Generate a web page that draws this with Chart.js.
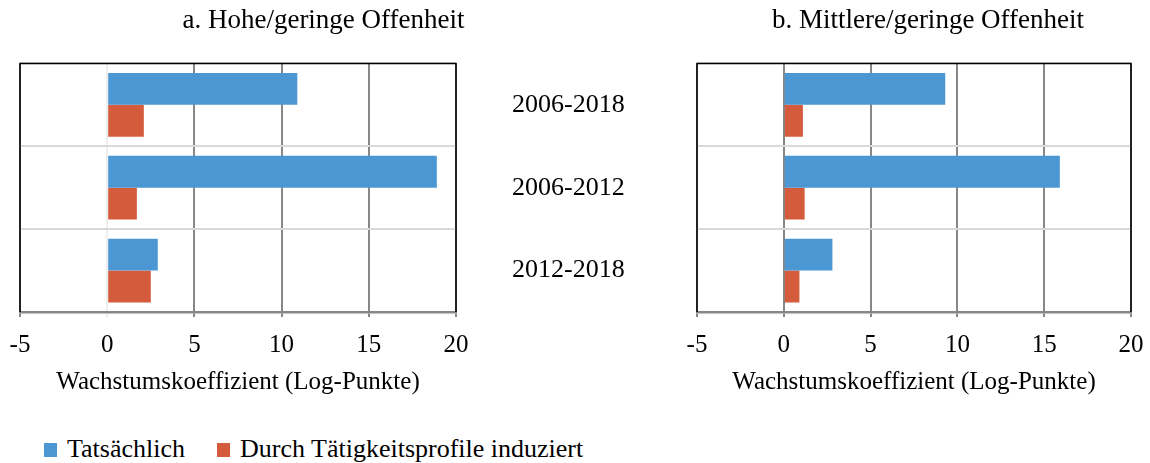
<!DOCTYPE html>
<html>
<head>
<meta charset="utf-8">
<script src="https://cdn.jsdelivr.net/npm/chart.js@4"></script>
<style>
  html, body { margin: 0; padding: 0; background: #fff; overflow: hidden; }
  #wrap { position: relative; width: 1150px; height: 463px; overflow: hidden; }
  #left { position: absolute; left: 0; top: 0; }
  #right { position: absolute; left: 680px; top: 0; }
  #legend { position: absolute; left: 44px; top: 434px; white-space: nowrap;
    font-family: 'Liberation Serif', serif; font-size: 26px; color: #000; line-height: 30px; }
  #legend .box { display: inline-block; width: 13px; height: 14px; margin-right: 10px; }
  #legend .gap { display: inline-block; width: 32px; }
</style>
</head>
<body>
<div id="wrap">
  <canvas id="left" width="644" height="398"></canvas>
  <canvas id="right" width="479" height="398"></canvas>
  <div id="legend"><span class="box" style="background:#4b97d3"></span>Tatsächlich<span class="gap"></span><span class="box" style="background:#d45c3c"></span>Durch Tätigkeitsprofile induziert</div>
</div>
<script>
const periods = ['2006-2018', '2006-2012', '2012-2018'];
const hoheTatsaechlich = [10.9, 18.9, 2.9];
const hoheInduziert = [2.1, 1.7, 2.5];
const mittlereTatsaechlich = [9.3, 15.9, 2.8];
const mittlereInduziert = [1.1, 1.2, 0.9];
const xMin = -5;
const xMax = 20;
const xStep = 5;

const BLUE = '#4b97d3';
const RED = '#d45c3c';
const GRID = '#878787';
const FONT = "'Liberation Serif', serif";

Chart.defaults.font.family = FONT;
Chart.defaults.color = '#000';

// black frame on top, left and right of the plot
const framePlugin = {
  id: 'frame',
  afterDraw(chart) {
    const { ctx, chartArea: a } = chart;
    ctx.save();
    ctx.strokeStyle = '#000';
    ctx.lineWidth = 1.5;
    ctx.beginPath();
    ctx.moveTo(a.left, a.bottom);
    ctx.lineTo(a.left, a.top);
    ctx.lineTo(a.right, a.top);
    ctx.lineTo(a.right, a.bottom);
    ctx.stroke();
    ctx.restore();
  },
};

function noPadding(scale) {
  scale.paddingLeft = 0;
  scale.paddingRight = 0;
  scale.paddingTop = 0;
  scale.paddingBottom = 0;
}

function makeDatasets(actual, induced) {
  return [
    { label: 'Tatsächlich', data: actual, backgroundColor: BLUE },
    { label: 'Durch Tätigkeitsprofile induziert', data: induced, backgroundColor: RED },
  ];
}

function xScale(lightZero) {
  return {
    type: 'linear',
    min: xMin,
    max: xMax,
    ticks: { stepSize: xStep, padding: 13, font: { size: 25 } },
    grid: {
      color: (c) => (lightZero && c.tick && c.tick.value === 0 ? '#eeeeee' : GRID),
      lineWidth: 2,
      tickLength: 5,
    },
    border: { color: GRID, width: 2.5 },
    title: {
      display: true,
      text: 'Wachstumskoeffizient (Log-Punkte)',
      font: { size: 25 },
      padding: { top: 0, bottom: 1 },
    },
    afterFit(scale) { scale.height = 86; noPadding(scale); },
  };
}

function titleOpts(text) {
  return {
    display: true,
    text: text,
    color: '#000',
    font: { size: 27, weight: 'normal' },
    padding: { top: 5, bottom: 26 },
  };
}

const leftChart = new Chart(document.getElementById('left'), {
  type: 'bar',
  data: { labels: periods, datasets: makeDatasets(hoheTatsaechlich, hoheInduziert) },
  options: {
    responsive: false,
    animation: false,
    indexAxis: 'y',
    categoryPercentage: 0.77,
    barPercentage: 1,
    layout: { padding: { left: 20, right: 17, top: 0, bottom: 0 } },
    plugins: { legend: { display: false }, tooltip: { enabled: false }, title: titleOpts('a. Hohe/geringe Offenheit') },
    scales: {
      x: xScale(true),
      y: {
        position: 'right',
        ticks: { padding: 56, font: { size: 26 } },
        grid: { color: '#d9d9d9', lineWidth: 2, drawTicks: false },
        border: { display: false },
        afterFit(scale) { scale.width = 171; noPadding(scale); },
      },
    },
  },
  plugins: [framePlugin],
});

const rightChart = new Chart(document.getElementById('right'), {
  type: 'bar',
  data: { labels: periods, datasets: makeDatasets(mittlereTatsaechlich, mittlereInduziert) },
  options: {
    responsive: false,
    animation: false,
    indexAxis: 'y',
    categoryPercentage: 0.77,
    barPercentage: 1,
    layout: { padding: { left: 17, right: 0, top: 0, bottom: 0 } },
    plugins: { legend: { display: false }, tooltip: { enabled: false }, title: titleOpts('b. Mittlere/geringe Offenheit') },
    scales: {
      x: xScale(false),
      y: {
        position: 'left',
        ticks: { display: false },
        grid: { color: '#d9d9d9', lineWidth: 2, drawTicks: false },
        border: { display: false },
        afterFit(scale) { scale.width = 0; noPadding(scale); },
      },
      // empty axis only to shift the title like in the original
      y2: {
        type: 'category',
        position: 'right',
        ticks: { display: false },
        grid: { display: false },
        border: { display: false },
        afterFit(scale) { scale.width = 28; noPadding(scale); },
      },
    },
  },
  plugins: [framePlugin],
});
</script>
</body>
</html>
